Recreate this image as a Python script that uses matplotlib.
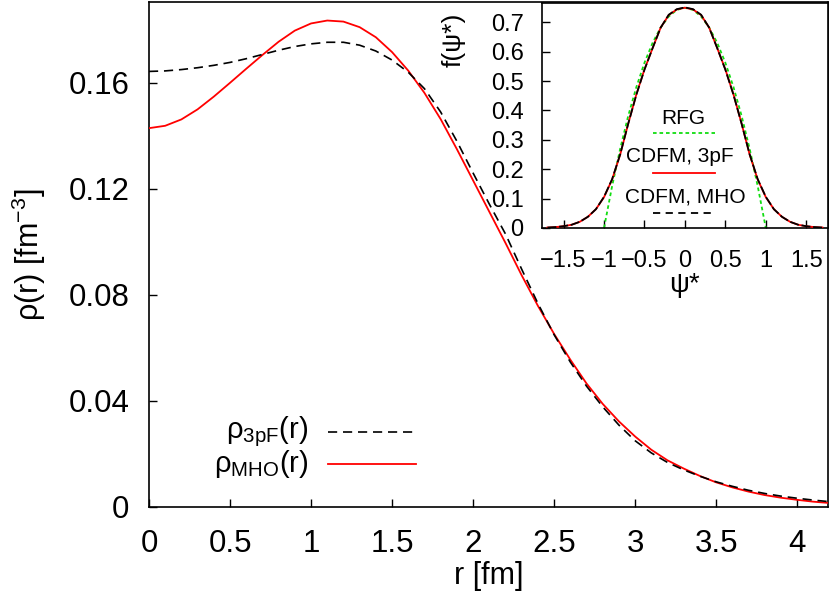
import matplotlib
matplotlib.use("Agg")
import matplotlib.pyplot as plt
from matplotlib.lines import Line2D

plt.rcParams['font.family'] = ['Liberation Sans', 'DejaVu Sans']
plt.rcParams['mathtext.fontset'] = 'custom'
plt.rcParams['mathtext.rm'] = 'Liberation Sans'
plt.rcParams['mathtext.it'] = 'Liberation Sans:italic'
plt.rcParams['mathtext.bf'] = 'Liberation Sans:bold'

# ---------------- main panel data ----------------
r_fm = [0.0, 0.1, 0.2, 0.3, 0.4, 0.5, 0.6, 0.7, 0.8, 0.9,
        1.0, 1.1, 1.2, 1.3, 1.4, 1.5, 1.6, 1.7, 1.8, 1.9,
        2.0, 2.1, 2.2, 2.3, 2.4, 2.5, 2.6, 2.7, 2.8, 2.9,
        3.0, 3.1, 3.2, 3.3, 3.4, 3.5, 3.6, 3.7, 3.8, 3.9,
        4.0, 4.1, 4.2]
rho_3pF = [0.1643, 0.1645, 0.1650, 0.1657, 0.1666, 0.1677, 0.1691, 0.1707, 0.1723, 0.1737,
           0.1747, 0.1753, 0.1753, 0.1742, 0.1720, 0.1686, 0.1640, 0.1578, 0.1490, 0.1380,
           0.1260, 0.1143, 0.1030, 0.0897, 0.0768, 0.0650, 0.0547, 0.0456, 0.0378, 0.0309,
           0.0250, 0.0204, 0.0168, 0.0140, 0.0116, 0.0095, 0.0078, 0.0063, 0.0051, 0.0041,
           0.0033, 0.0026, 0.0020]
rho_MHO = [0.1429, 0.1438, 0.1462, 0.1500, 0.1548, 0.1600, 0.1653, 0.1705, 0.1755, 0.1797,
           0.1824, 0.1835, 0.1831, 0.1810, 0.1772, 0.1716, 0.1646, 0.1562, 0.1463, 0.1350,
           0.1232, 0.1114, 0.0996, 0.0874, 0.0759, 0.0653, 0.0556, 0.0466, 0.0389, 0.0323,
           0.0266, 0.0216, 0.0176, 0.0145, 0.0117, 0.0093, 0.0074, 0.0058, 0.0045, 0.0035,
           0.0027, 0.0020, 0.0015]
main_xticks = [0, 0.5, 1, 1.5, 2, 2.5, 3, 3.5, 4]
main_xticklabels = ['0', '0.5', '1', '1.5', '2', '2.5', '3', '3.5', '4']
main_yticks = [0, 0.04, 0.08, 0.12, 0.16]
main_yticklabels = ['0', '0.04', '0.08', '0.12', '0.16']

# ---------------- inset data ----------------
psi_cdfm = [-1.7, -1.6, -1.5, -1.4, -1.3, -1.2, -1.1, -1.0, -0.9, -0.8, -0.7, -0.6,
            -0.5, -0.4, -0.3, -0.2, -0.1, 0.0, 0.1, 0.2, 0.3, 0.4, 0.5, 0.6,
            0.7, 0.8, 0.9, 1.0, 1.1, 1.2, 1.3, 1.4, 1.5, 1.6, 1.7]
f_cdfm_3pF = [0.0015, 0.003, 0.006, 0.011, 0.021, 0.038, 0.064, 0.105, 0.165, 0.250, 0.356, 0.455,
              0.540, 0.612, 0.682, 0.725, 0.744, 0.750, 0.744, 0.725, 0.682, 0.612, 0.540, 0.455,
              0.356, 0.250, 0.165, 0.105, 0.064, 0.038, 0.021, 0.011, 0.006, 0.003, 0.0015]
f_cdfm_MHO = [0.0015, 0.003, 0.006, 0.011, 0.021, 0.038, 0.064, 0.106, 0.166, 0.251, 0.356, 0.454,
              0.539, 0.612, 0.682, 0.726, 0.745, 0.751, 0.745, 0.726, 0.682, 0.612, 0.539, 0.454,
              0.356, 0.251, 0.166, 0.106, 0.064, 0.038, 0.021, 0.011, 0.006, 0.003, 0.0015]
psi_rfg = [-1.0, -0.9, -0.8, -0.7, -0.6, -0.5, -0.4, -0.3, -0.2, -0.1, 0.0,
           0.1, 0.2, 0.3, 0.4, 0.5, 0.6, 0.7, 0.8, 0.9, 1.0]
f_rfg = [0.0, 0.1425, 0.27, 0.3825, 0.48, 0.5625, 0.63, 0.6825, 0.72, 0.7425, 0.75,
         0.7425, 0.72, 0.6825, 0.63, 0.5625, 0.48, 0.3825, 0.27, 0.1425, 0.0]
inset_xticks = [-1.5, -1, -0.5, 0, 0.5, 1, 1.5]
inset_xticklabels = ['\u22121.5', '\u22121', '\u22120.5', '0', '0.5', '1', '1.5']
inset_yticks = [0, 0.1, 0.2, 0.3, 0.4, 0.5, 0.6, 0.7]
inset_yticklabels = ['0', '0.1', '0.2', '0.3', '0.4', '0.5', '0.6', '0.7']

GREEN = '#11dd11'
RED = '#ff0000'

fig = plt.figure(figsize=(8.30, 5.99), dpi=100)

# ---------- main axes ----------
ax = fig.add_axes([0.1795, 0.1536, 0.818, 0.8431])
ax.plot(r_fm, rho_MHO, color=RED, lw=1.3, zorder=3)
ax.plot(r_fm, rho_3pF, color='black', lw=1.2, linestyle=(0, (5.5, 3.5)), zorder=4)
ax.set_xlim(0, 4.19)
ax.set_ylim(0, 0.1905)
ax.set_xticks(main_xticks)
ax.set_xticklabels(main_xticklabels)
ax.set_yticks(main_yticks)
ax.set_yticklabels(main_yticklabels)
ax.tick_params(direction='in', length=6, width=1.0, labelsize=22.5,
               top=False, right=False)
ax.tick_params(axis='x', pad=16)
ax.tick_params(axis='y', pad=14)
for s in ax.spines.values():
    s.set_linewidth(1.2)
ax.set_xlabel('r [fm]', fontsize=22, labelpad=1)
ax.set_ylabel('\u03c1(r) [fm$^{\u22123}$]', fontsize=22, labelpad=15)

# main legend (gnuplot style: text right-aligned, sample to the right)
ax.text(0.2346, 0.149, '\u03c1$_{\\mathrm{3pF}}$(r)', transform=ax.transAxes,
        ha='right', va='center', fontsize=21)
ax.text(0.2346, 0.085, '\u03c1$_{\\mathrm{MHO}}$(r)', transform=ax.transAxes,
        ha='right', va='center', fontsize=21)
ax.add_line(Line2D([0.264, 0.394], [0.149, 0.149], transform=ax.transAxes,
                   color='black', lw=1.2, linestyle=(0, (5.5, 3.5))))
ax.add_line(Line2D([0.264, 0.394], [0.085, 0.085], transform=ax.transAxes,
                   color=RED, lw=1.3))

# ---------- inset ----------
ins = fig.add_axes([0.6527, 0.6194, 0.345, 0.3756])
ins.plot(psi_rfg, f_rfg, color=GREEN, lw=1.3, linestyle=(0, (2, 1.6)), zorder=2)
ins.plot(psi_cdfm, f_cdfm_3pF, color=RED, lw=1.3, zorder=3)
ins.plot(psi_cdfm, f_cdfm_MHO, color='black', lw=1.3, linestyle=(0, (5, 1.5)), zorder=4)
ins.set_xlim(-1.77, 1.77)
ins.set_ylim(0, 0.766)
ins.set_xticks(inset_xticks)
ins.set_xticklabels(inset_xticklabels)
ins.set_yticks(inset_yticks)
ins.set_yticklabels(inset_yticklabels)
ins.tick_params(direction='in', length=6, width=1.0, labelsize=17,
                top=False, right=False)
ins.tick_params(axis='x', pad=16)
ins.tick_params(axis='y', pad=13)
for s in ins.spines.values():
    s.set_linewidth(1.2)
ins.set_xlabel('\u03c8*', fontsize=20, labelpad=0)
ins.set_ylabel('f(\u03c8*)', fontsize=19)
ins.yaxis.set_label_coords(-0.265, 0.835)

# inset legend: text above its sample line
ins.text(0.494, 0.4876, 'RFG', transform=ins.transAxes, ha='center', va='center', fontsize=15)
ins.add_line(Line2D([0.39, 0.605], [0.421, 0.421], transform=ins.transAxes,
                    color=GREEN, lw=1.3, linestyle=(0, (2, 1.6))))
ins.text(0.483, 0.317, 'CDFM, 3pF', transform=ins.transAxes, ha='center', va='center', fontsize=15)
ins.add_line(Line2D([0.39, 0.605], [0.243, 0.243], transform=ins.transAxes,
                    color=RED, lw=1.3))
ins.text(0.50, 0.139, 'CDFM, MHO', transform=ins.transAxes, ha='center', va='center', fontsize=15)
ins.add_line(Line2D([0.39, 0.605], [0.065, 0.065], transform=ins.transAxes,
                    color='black', lw=1.3, linestyle=(0, (4, 3))))

fig.savefig('out.png', dpi=100)
